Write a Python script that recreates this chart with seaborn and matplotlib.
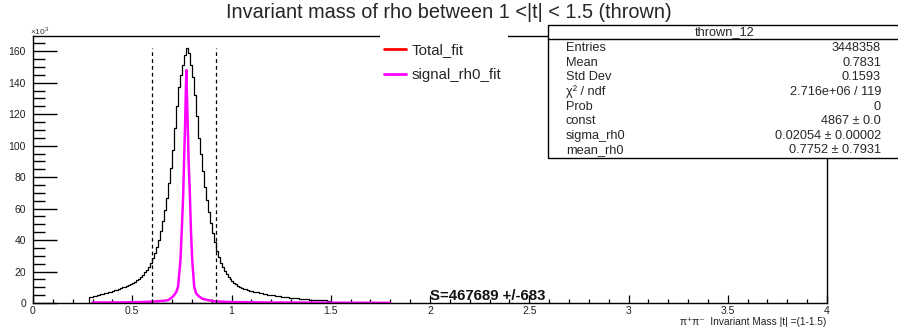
import numpy as np
import pandas as pd
import matplotlib
matplotlib.use("Agg")
import matplotlib.pyplot as plt
from matplotlib.lines import Line2D
from matplotlib.patches import Rectangle
from matplotlib.ticker import MultipleLocator
import seaborn as sns

# ---- histogram of pi+pi- invariant mass (counts in units of 10^3), 0.01 GeV bins from 0.28 to 1.50
bin_lo = 0.28
bin_hi = 1.50
bin_width = 0.01
counts_k = [
    3.8, 4.1, 4.3, 4.6, 4.9, 5.2, 5.5, 5.8, 6.1, 6.4,
    6.8, 7.2, 7.6, 8.0, 8.4, 8.9, 9.4, 9.9, 10.4, 10.9,
    11.5, 12.1, 12.8, 13.6, 14.5, 15.5, 16.6, 17.9, 19.4, 21.1,
    23.1, 25.5, 28.3, 31.6, 35.5, 40.0, 45.5, 52.0, 59.0, 66.5,
    76.0,
    86.0, 97.0, 111.0, 125.0, 137.5, 145.0, 151.0, 157.6, 162.0,
    159.0, 151.0, 143.6, 132.0, 119.0, 105.0, 95.0, 84.0,
    74.0, 65.5, 58.0, 51.0, 44.5, 38.5, 33.0, 29.0, 25.5, 22.6,
    20.2, 18.2, 16.5, 15.0, 13.8, 12.7, 11.8, 11.0, 10.3, 9.7,
    9.2, 8.7, 8.3, 7.9, 7.6, 7.3, 7.0, 6.7, 6.4, 6.1,
    5.9, 5.6, 5.4, 5.2, 5.0, 4.8, 4.6, 4.4, 4.2, 4.0,
    3.9, 3.7, 3.6, 3.4, 3.3, 3.1, 3.0, 2.9, 2.8, 2.6,
    2.5, 2.4, 2.3, 2.2, 2.1, 2.0, 1.9, 1.8, 1.8, 1.7,
    1.6, 1.6, 1.5, 1.5,
]

# ---- signal fit curve (x in GeV, y in 10^3)
signal_x = [0.30, 0.45, 0.55, 0.62, 0.66, 0.681, 0.706, 0.722, 0.731, 0.743,
            0.750, 0.757, 0.762, 0.766, 0.7725, 0.779, 0.784, 0.790, 0.796, 0.802,
            0.812, 0.822, 0.836, 0.855, 0.883, 0.92, 1.0, 1.2, 1.5, 1.8]
signal_y = [0.3, 0.4, 0.6, 1.0, 1.4, 1.8, 4.2, 7.0, 10.5, 27.5,
            48.0, 70.0, 95.0, 112.0, 148.0, 116.0, 90.0, 70.0, 45.0, 27.5,
            10.5, 6.0, 4.2, 2.6, 1.8, 1.0, 0.6, 0.3, 0.2, 0.1]

# ---- mass window cuts
cut_lo = 0.60
cut_hi = 0.92
cut_top_k = 162.0

# ---- stats box
stats_title = "thrown_12"
stats_names = ["Entries", "Mean", "Std Dev", "\u03c7\u00b2 / ndf", "Prob",
               "const", "sigma_rh0", "mean_rh0"]
stats_values = ["3448358", "0.7831", "0.1593", "2.716e+06 / 119", "0",
                "4867 \u00b1 0.0", "0.02054 \u00b1 0.00002", "0.7752 \u00b1 0.7931"]

title = "Invariant mass of rho between 1 <|t| < 1.5 (thrown)"
xlabel = "\u03c0\u207a\u03c0\u207b  Invariant Mass |t| =(1-1.5)"
yield_text = "S=467689 +/-683"
legend_labels = ["Total_fit", "signal_rh0_fit"]

sns.set_style("ticks")
plt.rcParams["font.family"] = ["Liberation Sans", "DejaVu Sans"]
plt.rcParams["mathtext.fontset"] = "custom"
plt.rcParams["mathtext.rm"] = "Liberation Sans"

W, H = 898, 329
fig = plt.figure(figsize=(W / 100, H / 100), dpi=100)
ax = fig.add_axes([33 / W, 1 - 303 / H, (827 - 33) / W, (303 - 36) / H])

n_bins = len(counts_k)
edges = [round(bin_lo + i * bin_width, 4) for i in range(n_bins + 1)]
centers = [(edges[i] + edges[i + 1]) / 2 for i in range(n_bins)]
hist_df = pd.DataFrame({"mass": centers, "counts": counts_k})
sns.histplot(data=hist_df, x="mass", weights="counts", bins=edges,
             element="step", fill=True, facecolor="none", color="black",
             linewidth=0.9, ax=ax)

sig_df = pd.DataFrame({"mass": signal_x, "fit": signal_y})
sns.lineplot(data=sig_df, x="mass", y="fit", sort=False, estimator=None,
             color="#ff00ff", linewidth=1.8, ax=ax)

for xc in (cut_lo, cut_hi):
    ax.plot([xc, xc], [0, cut_top_k], color="black", linewidth=0.9,
            linestyle=(0, (3, 2.5)))

ax.set_xlim(0, 4)
ax.set_ylim(0, 169.7)
ax.set_xlabel("")
ax.set_ylabel("")

ax.xaxis.set_minor_locator(MultipleLocator(0.1))
ax.yaxis.set_major_locator(MultipleLocator(20))
ax.yaxis.set_minor_locator(MultipleLocator(5))
ax.set_xticks(np.arange(0, 4.01, 0.5))
ax.set_xticklabels(["0", "0.5", "1", "1.5", "2", "2.5", "3", "3.5", "4"])
ax.tick_params(axis="both", which="both", direction="in", color="black",
               labelsize=7.5, labelcolor="#222222", bottom=True, left=True,
               top=False, right=False)
ax.tick_params(axis="y", which="major", length=17, width=1.0, pad=5)
ax.tick_params(axis="y", which="minor", length=8.5, width=1.0)
ax.tick_params(axis="x", which="major", length=6, width=0.9, pad=2.5)
ax.tick_params(axis="x", which="minor", length=3, width=0.9)
for sp in ax.spines.values():
    sp.set_color("black")
    sp.set_linewidth(1.0)

ax.text(2.0, 0.2, yield_text, fontsize=10.8, fontweight="bold", ha="left",
        va="bottom", color="#111111")

fig.text(30 / W, 1 - 31 / H, r"$\times10^{3}$", fontsize=6, ha="left",
         va="center", color="#333333")
fig.text(449 / W, 1 - 12 / H, title, fontsize=14.3, ha="center", va="center")
fig.text(826 / W, 1 - 322 / H, xlabel, fontsize=7.3, ha="right", va="center",
         color="#222222")

# white backing of the legend, breaking the top frame line
fig.add_artist(Rectangle((380 / W, 1 - 88 / H), (508 - 380) / W, (88 - 30) / H,
                         transform=fig.transFigure, facecolor="white",
                         edgecolor="none", zorder=2))
handles = [Line2D([], [], color="red", linewidth=2.0),
           Line2D([], [], color="#ff00ff", linewidth=2.0)]
leg = ax.legend(handles, legend_labels, loc="upper left",
                bbox_to_anchor=(379 / W, 1 - 38 / H),
                bbox_transform=fig.transFigure, fontsize=10.8, frameon=False,
                handlelength=1.45, handletextpad=0.4,
                labelspacing=0.72, borderpad=0.35, borderaxespad=0)
leg.set_zorder(5)
leg.remove()
fig.add_artist(leg)
leg.set_zorder(5)

# stats box drawn in figure pixels (runs past the right edge of the canvas)
x0, x1, y_top, y_bot = 548, 902, 25, 158
fig.add_artist(Rectangle((x0 / W, 1 - y_bot / H), (x1 - x0) / W,
                         (y_bot - y_top) / H, transform=fig.transFigure,
                         facecolor="white", edgecolor="black", linewidth=1.0,
                         zorder=4))
fig.add_artist(Line2D([x0 / W, x1 / W], [1 - 39.3 / H, 1 - 39.3 / H],
                      transform=fig.transFigure, color="black", linewidth=1.0,
                      zorder=5))
fig.text(725 / W, 1 - 32.5 / H, stats_title, fontsize=9.2, ha="center",
         va="center", zorder=6)
row_y = [48.3, 62.7, 77.3, 92.0, 106.7, 121.0, 135.7, 150.0]
for yy, name, val in zip(row_y, stats_names, stats_values):
    fig.text(566 / W, 1 - yy / H, name, fontsize=9.2, ha="left", va="center",
             zorder=6)
    fig.text(881 / W, 1 - yy / H, val, fontsize=9.2, ha="right", va="center",
             zorder=6)

fig.savefig("out.png", dpi=100, facecolor="white")
